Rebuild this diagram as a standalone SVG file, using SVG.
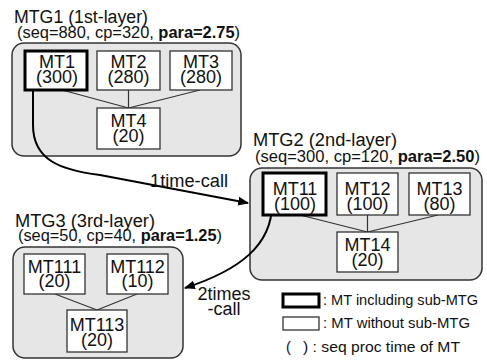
<svg xmlns="http://www.w3.org/2000/svg" width="487" height="361" viewBox="0 0 487 361">
<defs>
<style>
text{font-family:"Liberation Sans",Arial,sans-serif;fill:#111}
.grp{fill:#e6e6e6;stroke:#333;stroke-width:1.5}
.mt{fill:#fff;stroke:#333;stroke-width:1.3}
.mtk{fill:#fff;stroke:#000;stroke-width:3}
.lbl{font-size:18px;text-anchor:middle}
.ttl{font-size:18px}
.sub{font-size:16px}
.edge{stroke:#333;stroke-width:1.2;fill:none}
.call{stroke:#000;stroke-width:2;fill:none;marker-end:url(#ah)}
.leg{font-size:14.5px}
</style>
<marker id="ah" viewBox="0 0 10 10" refX="9" refY="5" markerWidth="5.5" markerHeight="5.5" markerUnits="strokeWidth" orient="auto">
<path d="M0,1 L10,5 L0,9 z" fill="#000"/>
</marker>
</defs>

<g id="MTG1">
<text class="ttl" x="14" y="23" textLength="134" lengthAdjust="spacingAndGlyphs">MTG1 (1st-layer)</text>
<text class="sub" x="17" y="38" textLength="223" lengthAdjust="spacingAndGlyphs">(seq=880, cp=320, <tspan font-weight="bold">para=2.75</tspan>)</text>
<rect class="grp" x="12" y="43" width="229" height="113" rx="12"/>
</g>
<g id="MTG2">
<text class="ttl" x="253" y="146" textLength="144" lengthAdjust="spacingAndGlyphs">MTG2 (2nd-layer)</text>
<text class="sub" x="255" y="162" textLength="225" lengthAdjust="spacingAndGlyphs">(seq=300, cp=120, <tspan font-weight="bold">para=2.50</tspan>)</text>
<rect class="grp" x="250" y="168" width="232" height="112" rx="12"/>
</g>
<g id="MTG3">
<text class="ttl" x="15" y="227" textLength="140" lengthAdjust="spacingAndGlyphs">MTG3 (3rd-layer)</text>
<text class="sub" x="18" y="241" textLength="204" lengthAdjust="spacingAndGlyphs">(seq=50, cp=40, <tspan font-weight="bold">para=1.25</tspan>)</text>
<rect class="grp" x="13" y="247" width="170" height="111" rx="12"/>
</g>

<g id="connectors">
<path class="edge" d="M62,90 L128.5,108 M128.5,90 L128.5,108 M200,90 L128.5,108"/>
<path class="edge" d="M300,215 L367.5,232 M367.5,215 L367.5,232 M438,215 L367.5,232"/>
<path class="edge" d="M55,294 L97,310 M137,294 L97,310"/>
<path class="call" d="M33,87 L33,125 C33,160 60,170 100,175 L248,203"/>
<path class="call" d="M272,204 C272,245 240,270 185,288"/>
<text class="ttl" x="150" y="187" textLength="78" lengthAdjust="spacingAndGlyphs">1time-call</text>
<text class="ttl" x="224" y="300" text-anchor="middle">2times<tspan x="224" dy="15">-call</tspan></text>
</g>

<g id="MT1"><rect class="mtk" x="25" y="51" width="62" height="39"/><text class="lbl" x="57" y="68">MT1<tspan x="57" dy="15">(300)</tspan></text></g>
<g id="MT2"><rect class="mt" x="97" y="51" width="63" height="39"/><text class="lbl" x="128.5" y="68">MT2<tspan x="128.5" dy="15">(280)</tspan></text></g>
<g id="MT3"><rect class="mt" x="170" y="51" width="62" height="39"/><text class="lbl" x="201" y="68">MT3<tspan x="201" dy="15">(280)</tspan></text></g>
<g id="MT4"><rect class="mt" x="97" y="108" width="63" height="41"/><text class="lbl" x="128.5" y="127">MT4<tspan x="128.5" dy="15">(20)</tspan></text></g>

<g id="MT11"><rect class="mtk" x="263" y="173" width="63" height="42"/><text class="lbl" x="295" y="195">MT11<tspan x="295" dy="15">(100)</tspan></text></g>
<g id="MT12"><rect class="mt" x="337" y="173" width="61" height="42"/><text class="lbl" x="367.5" y="195">MT12<tspan x="367.5" dy="15">(100)</tspan></text></g>
<g id="MT13"><rect class="mt" x="409" y="173" width="61" height="42"/><text class="lbl" x="439.5" y="195">MT13<tspan x="439.5" dy="15">(80)</tspan></text></g>
<g id="MT14"><rect class="mt" x="337" y="232" width="61" height="40"/><text class="lbl" x="367.5" y="251">MT14<tspan x="367.5" dy="15">(20)</tspan></text></g>

<g id="MT111"><rect class="mt" x="24" y="254" width="61" height="40"/><text class="lbl" x="54.5" y="273">MT111<tspan x="54.5" dy="14">(20)</tspan></text></g>
<g id="MT112"><rect class="mt" x="107" y="254" width="61" height="40"/><text class="lbl" x="137.5" y="273">MT112<tspan x="137.5" dy="14">(10)</tspan></text></g>
<g id="MT113"><rect class="mt" x="67" y="310" width="60" height="42"/><text class="lbl" x="97" y="331">MT113<tspan x="97" dy="15">(20)</tspan></text></g>

<g id="legend">
<rect class="mtk" x="283" y="294" width="36" height="13"/>
<text class="leg" x="323" y="305" textLength="155" lengthAdjust="spacingAndGlyphs">: MT including sub-MTG</text>
<rect class="mt" x="283" y="317" width="36" height="13"/>
<text class="leg" x="323" y="328" textLength="147" lengthAdjust="spacingAndGlyphs">: MT without sub-MTG</text>
<text class="leg" x="286" y="352">(</text>
<text class="leg" x="303" y="352" textLength="157" lengthAdjust="spacingAndGlyphs">) : seq proc time of MT</text>
</g>
</svg>
